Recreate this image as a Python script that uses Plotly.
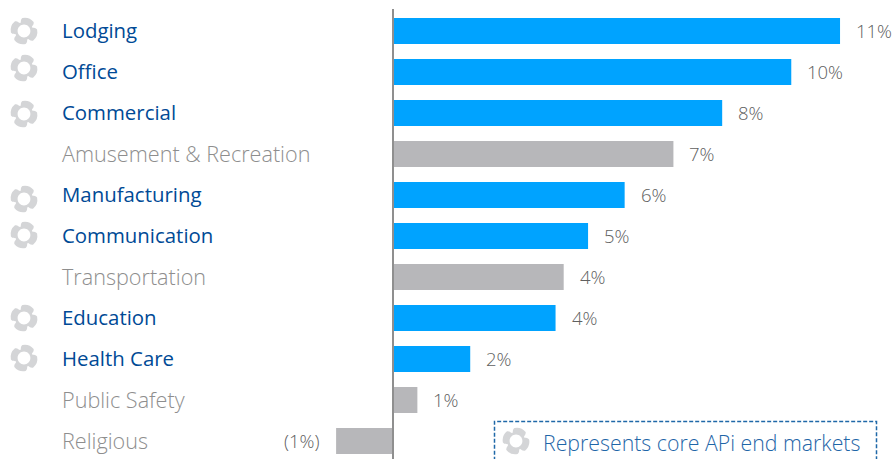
import math
import plotly.graph_objects as go

# End markets, top to bottom, with growth in percent
categories = ["Lodging", "Office", "Commercial", "Amusement & Recreation", "Manufacturing",
              "Communication", "Transportation", "Education", "Health Care", "Public Safety", "Religious"]
growth = [11.0, 9.8, 8.1, 6.9, 5.7, 4.8, 4.2, 4.0, 1.9, 0.6, -1.4]
core_market = [True, True, True, False, True, True, False, True, True, False, False]

BLUE = "#00a3ff"
GREY = "#b7b7ba"
NAVY = "#004a96"
MUTED = "#8e8e8e"
VALUE_TEXT = "#606060"
FONT = "Open Sans"

W, H = 895, 459
icon_y = [31, 68, 114, 199, 235, 318, 358]


def polar(r, deg):
    a = math.radians(deg)
    return f"{r * math.cos(a):.2f} {r * math.sin(a):.2f}"


def logo_path(turn=70, lobe=13.2, waist=8.8, hole=6.4):
    """Four rounded lobes around a round hole, in pixels from the anchor."""
    parts = [f"M {polar(waist, turn - 45)}"]
    for k in range(4):
        t = turn + 90 * k
        parts.append(f"C {polar(waist + 0.5, t - 36)} {polar(lobe - 1.5, t - 40)} {polar(lobe, t - 27)}")
        parts.append(f"Q {polar(lobe + 2.2, t)} {polar(lobe, t + 27)}")
        parts.append(f"C {polar(lobe - 1.5, t + 40)} {polar(waist + 0.5, t + 36)} {polar(waist, t + 45)}")
    parts.append("Z")
    c = 0.5523 * hole
    parts.append(f"M {hole} 0 C {hole} {c:.2f} {c:.2f} {hole} 0 {hole} "
                 f"C {-c:.2f} {hole} {-hole} {c:.2f} {-hole} 0 "
                 f"C {-hole} {-c:.2f} {-c:.2f} {-hole} 0 {-hole} "
                 f"C {c:.2f} {-hole} {hole} {-c:.2f} {hole} 0 Z")
    return " ".join(parts)


def label(v):
    pct = f"{abs(round(v))}%"
    return f"({pct})" if v < 0 else pct


fig = go.Figure(go.Bar(
    x=growth, y=categories, orientation="h",
    marker=dict(color=[BLUE if c else GREY for c in core_market], line_width=0),
    hoverinfo="skip",
))

annotations = []
for name, v, core in zip(categories, growth, core_market):
    annotations.append(dict(
        xref="paper", x=60 / W, y=name, text=name, showarrow=False, xanchor="left",
        yshift=1,
        font=dict(family=FONT, size=20.4 if core else 21.6, color=NAVY if core else MUTED,
                  weight=500 if core else 300),
    ))
    annotations.append(dict(
        x=v, y=name, text=label(v), showarrow=False,
        xanchor="left" if v >= 0 else "right", xshift=14 if v >= 0 else -14, yshift=1,
        font=dict(family=FONT, size=18.5, color=VALUE_TEXT, weight=300),
    ))
annotations.append(dict(
    xref="paper", yref="paper", x=541 / W, y=1 - 442 / H, text="Represents core APi end markets",
    showarrow=False, xanchor="left", yanchor="middle",
    font=dict(family=FONT, size=21.3, color="#1f66a8", weight=300),
))

shapes = [
    dict(type="line", xref="x", yref="paper", x0=0, x1=0, y0=0, y1=1 - 9 / H,
         line=dict(color="#8f8f8f", width=2)),
    dict(type="rect", xref="paper", yref="paper", x0=494.5 / W, x1=876.5 / W, y0=-0.02, y1=1 - 421.5 / H,
         line=dict(color="#1f68a8", width=1.5, dash="4px,2px")),
]
for y in icon_y:
    shapes.append(dict(type="path", path=logo_path(), xsizemode="pixel", ysizemode="pixel",
                       xref="paper", yref="paper", xanchor=24 / W, yanchor=1 - y / H,
                       fillcolor="#d4d5d7", line_width=0))
shapes.append(dict(type="path", path=logo_path(), xsizemode="pixel", ysizemode="pixel",
                   xref="paper", yref="paper", xanchor=516 / W, yanchor=1 - 441 / H,
                   fillcolor="#d4d5d7", line_width=0))

fig.update_layout(
    width=W, height=H, margin=dict(l=0, r=0, t=0, b=0),
    paper_bgcolor="white", plot_bgcolor="white", showlegend=False, bargap=0.366,
    xaxis=dict(range=[-393 / 40.64, (W - 393) / 40.64], visible=False),
    yaxis=dict(range=[(H - 31) / 41, -31 / 41], visible=False,
               categoryorder="array", categoryarray=categories),
    annotations=annotations, shapes=shapes,
)
fig.write_html("out.html", config=dict(displayModeBar=False))
